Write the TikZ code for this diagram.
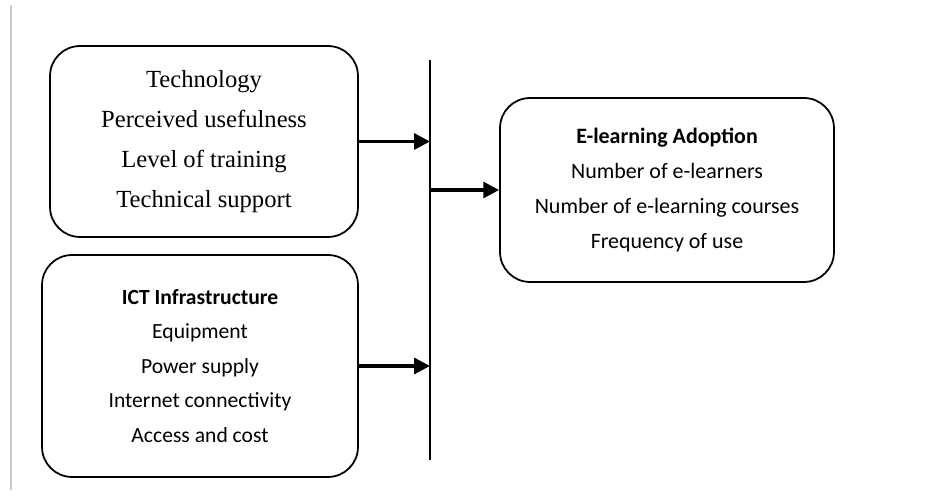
\documentclass[tikz,border=0pt]{standalone}
\usepackage{fontspec}
\setmainfont{Liberation Serif}
\newfontfamily\calibri{Carlito}
\usetikzlibrary{arrows.meta}

\tikzset{
    factor/.style={draw, line width=1pt, rounded corners=0.6cm, align=center, inner sep=0pt},
    link/.style={line width=1.9pt, -{Triangle[length=9pt, width=9pt]}}
}

\begin{document}
\begin{tikzpicture}[x=0.02cm, y=-0.02cm]
    \useasboundingbox(0,0)rectangle(948,499);
    \draw[gray!40, line width=1pt](11,5)--(11,490);
    \node[factor, minimum width=6.16cm, minimum height=3.82cm, font=\fontsize{14}{22.8}\selectfont](tech)at(204,141.5){Technology\\Perceived usefulness\\Level of training\\Technical support};
    \node[factor, minimum width=6.32cm, minimum height=4.44cm, font=\calibri\fontsize{12.3}{19.6}\selectfont](ict)at(200,366){\textbf{ICT Infrastructure}\\Equipment\\Power supply\\Internet connectivity\\Access and cost};
    \node[factor, minimum width=6.68cm, minimum height=3.68cm, font=\calibri\fontsize{12.5}{20}\selectfont](adopt)at(667,190){\textbf{E-learning Adoption}\\Number of e-learners\\Number of e-learning courses\\Frequency of use};
    \coordinate(bartop)at(430,60);
    \coordinate(barbot)at(430,460);
    \draw[line width=0.8pt](bartop)--(barbot);
    \draw[link](tech.east)--(tech.east -| bartop);
    \draw[link](ict.east)--(ict.east -| bartop);
    \draw[link](bartop |- adopt.west)--(adopt.west);
\end{tikzpicture}
\end{document}
